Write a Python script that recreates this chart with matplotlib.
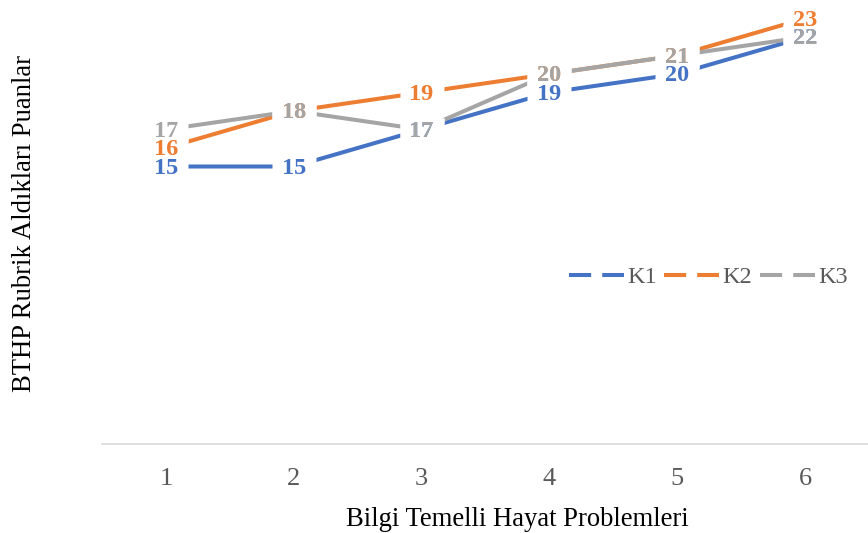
import matplotlib
matplotlib.use("Agg")
import matplotlib.pyplot as plt
from matplotlib.lines import Line2D

categories = ["1", "2", "3", "4", "5", "6"]
series_names = ["K1", "K2", "K3"]
k1 = [15, 15, 17, 19, 20, 22]
k2 = [16, 18, 19, 20, 21, 23]
k3 = [17, 18, 17, 20, 21, 22]
colors = ["#4472C4", "#ED7D31", "#A5A5A5"]

plt.rcParams["font.family"] = ["Liberation Serif", "DejaVu Serif"]

fig = plt.figure(figsize=(8.68, 5.33), dpi=100)
ax = fig.add_axes([102 / 868, 89 / 533, 767 / 868, 444 / 533])

x = list(range(1, len(categories) + 1))
all_series = [k1, k2, k3]
for vals, c in zip(all_series, colors):
    ax.plot(x, vals, color=c, lw=2.9, solid_capstyle="butt", zorder=2)

# white label backgrounds (hide lines behind labels)
rect = [(-1.0, -0.55), (1.0, -0.55), (1.0, 0.55), (-1.0, 0.55), (-1.0, -0.55)]
for vals in all_series:
    ax.plot(x, vals, linestyle="none", marker=rect, markersize=31,
            markerfacecolor="white", markeredgecolor="none", zorder=4, clip_on=False)

z = 6
for vals, c in zip(all_series, colors):
    for xi, v in zip(x, vals):
        ax.annotate(str(v), (xi, v), xytext=(0, -1.2), textcoords="offset points",
                    color=c, fontsize=17.5, fontweight="bold",
                    ha="center", va="center", zorder=z, annotation_clip=False)
    z += 1

ax.set_xlim(0.5, len(categories) + 0.5)
ax.set_ylim(0, 24)
ax.set_xticks(x)
ax.set_xticklabels(categories)
ax.set_yticks([])
for s in ["top", "right", "left"]:
    ax.spines[s].set_visible(False)
ax.spines["bottom"].set_color("#D9D9D9")
ax.spines["bottom"].set_linewidth(1.2)
ax.tick_params(axis="x", length=0, pad=17, labelsize=19, labelcolor="#595959")

fig.text(517 / 868, (533 - 519) / 533, "Bilgi Temelli Hayat Problemleri",
         ha="center", va="center", fontsize=19.2, color="black")
fig.text(25 / 868, (533 - 224) / 533, "BTHP Rubrik Aldıkları Puanlar",
         ha="center", va="center", rotation=90, fontsize=19.2, color="black")

handles = [Line2D([0], [0], color=c, lw=2.9, linestyle=(0, (5.5, 2.75))) for c in colors]
fig.legend(handles, series_names, loc="center left",
           bbox_to_anchor=(569 / 868, (533 - 277) / 533), frameon=False,
           ncol=3, fontsize=17.5, labelcolor="#595959", handlelength=2.26,
           handletextpad=0.12, columnspacing=0.33, borderpad=0, borderaxespad=0)

fig.savefig("out.png", dpi=100)
